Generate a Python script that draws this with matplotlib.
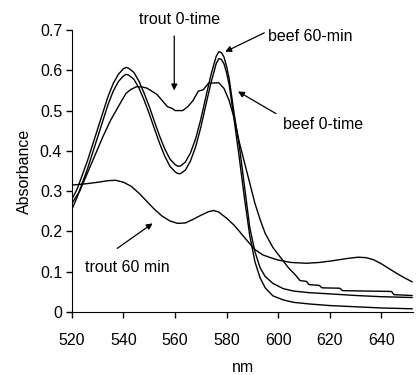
import matplotlib
matplotlib.use("Agg")
import matplotlib.pyplot as plt

plt.rcParams['font.family'] = ['Liberation Sans', 'DejaVu Sans']

# wavelength (nm) / absorbance readings for the four spectra
beef_60_nm = [520, 522, 524, 526, 528, 530, 532, 534, 536, 538, 540, 541, 542, 544, 546,
              548, 550, 552, 554, 556, 558, 560, 561, 562, 564, 566, 568, 570, 572, 574,
              576, 577, 578, 579, 580, 581, 583, 585, 587, 589, 591, 593, 595, 598, 602,
              606, 612, 620, 630, 640, 652]
beef_60_abs = [0.28, 0.305, 0.34, 0.375, 0.415, 0.455, 0.495, 0.535, 0.567, 0.59, 0.604,
               0.607, 0.605, 0.595, 0.573, 0.543, 0.51, 0.473, 0.437, 0.405, 0.38, 0.366,
               0.362, 0.362, 0.372, 0.395, 0.43, 0.478, 0.535, 0.59, 0.635, 0.646, 0.644,
               0.633, 0.61, 0.58, 0.49, 0.41, 0.31, 0.21, 0.15, 0.11, 0.088, 0.071, 0.058,
               0.052, 0.048, 0.045, 0.041, 0.038, 0.036]

beef_0_nm = beef_60_nm
beef_0_abs = [0.255, 0.285, 0.32, 0.355, 0.395, 0.435, 0.475, 0.515, 0.548, 0.572, 0.586,
              0.59, 0.588, 0.578, 0.556, 0.526, 0.492, 0.455, 0.419, 0.387, 0.362, 0.348,
              0.344, 0.343, 0.352, 0.375, 0.41, 0.458, 0.515, 0.57, 0.617, 0.629, 0.627,
              0.616, 0.594, 0.565, 0.475, 0.38, 0.28, 0.19, 0.125, 0.085, 0.06, 0.04, 0.03,
              0.024, 0.02, 0.016, 0.013, 0.01, 0.008]

trout_0_nm = [520, 523, 526, 529, 532, 535, 538, 541, 543, 545, 547, 549, 551, 553, 555,
              557, 559, 560, 563, 565, 567, 569, 571, 573, 577, 579, 581, 583, 585, 587,
              589, 591, 593, 595, 598, 601, 604, 607, 608.5, 611, 612, 616, 617, 624, 625,
              644, 645, 652]
trout_0_abs = [0.27, 0.30, 0.345, 0.39, 0.435, 0.476, 0.51, 0.543, 0.553, 0.559, 0.559,
               0.556, 0.548, 0.54, 0.525, 0.51, 0.505, 0.50, 0.50, 0.51, 0.525, 0.548, 0.552,
               0.568, 0.569, 0.555, 0.525, 0.48, 0.42, 0.37, 0.32, 0.27, 0.23, 0.195, 0.16,
               0.135, 0.11, 0.09, 0.078, 0.076, 0.068, 0.066, 0.06, 0.059, 0.053, 0.051,
               0.043, 0.041]

trout_60_nm = [520, 525, 530, 534, 537, 540, 543, 546, 549, 552, 555, 558, 561, 564, 567,
               570, 573, 575, 577, 580, 583, 585, 588, 591, 594, 597, 600, 605, 611, 616,
               621, 627, 631, 634, 637, 640, 643, 646, 649, 652]
trout_60_abs = [0.315, 0.318, 0.322, 0.326, 0.327, 0.322, 0.312, 0.295, 0.275, 0.255, 0.238,
                0.226, 0.22, 0.221, 0.23, 0.24, 0.249, 0.252, 0.248, 0.233, 0.215, 0.2,
                0.177, 0.155, 0.142, 0.135, 0.129, 0.123, 0.121, 0.123, 0.127, 0.133, 0.136,
                0.135, 0.13, 0.12, 0.108, 0.096, 0.085, 0.075]

x_ticks = [520, 540, 560, 580, 600, 620, 640]
y_ticks = [0, 0.1, 0.2, 0.3, 0.4, 0.5, 0.6, 0.7]

fig = plt.figure(figsize=(4.16, 3.75), dpi=100)
ax = fig.add_axes([0.173, 0.168, 0.82, 0.752])

for xs, ys in [(beef_60_nm, beef_60_abs), (beef_0_nm, beef_0_abs),
               (trout_0_nm, trout_0_abs), (trout_60_nm, trout_60_abs)]:
    ax.plot(xs, ys, color='black', linewidth=1.0)

ax.set_xlim(520, 652.4)
ax.set_ylim(0, 0.7)
ax.set_xticks(x_ticks)
ax.set_yticks(y_ticks)
ax.set_yticklabels(['0', '0.1', '0.2', '0.3', '0.4', '0.5', '0.6', '0.7'])
ax.spines['top'].set_visible(False)
ax.spines['right'].set_visible(False)
ax.tick_params(direction='out', length=4, width=1, labelsize=11.5, pad=3)
ax.tick_params(axis='x', pad=11)
ax.set_xlabel('nm', fontsize=11.5, labelpad=9)
ax.set_ylabel('Absorbance', fontsize=11.5, labelpad=6)

arrow = dict(arrowstyle='-|>', color='black', lw=0.9, mutation_scale=9)
fs = 11.5
ax.annotate('', xy=(559.7, 0.543), xytext=(559.7, 0.692), arrowprops=arrow, annotation_clip=False)
ax.text(561.9, 0.725, 'trout 0-time', ha='center', va='center', fontsize=fs, clip_on=False)
ax.annotate('', xy=(578.5, 0.643), xytext=(595.6, 0.696), arrowprops=arrow, annotation_clip=False)
ax.text(596.1, 0.685, 'beef 60-min', ha='left', va='center', fontsize=fs, clip_on=False)
ax.annotate('', xy=(583.5, 0.551), xytext=(600.1, 0.489), arrowprops=arrow)
ax.text(602, 0.466, 'beef 0-time', ha='left', va='center', fontsize=fs)
ax.annotate('', xy=(552.2, 0.224), xytext=(536.7, 0.154), arrowprops=arrow)
ax.text(525, 0.11, 'trout 60 min', ha='left', va='center', fontsize=fs)

fig.savefig('out.png', dpi=100)
